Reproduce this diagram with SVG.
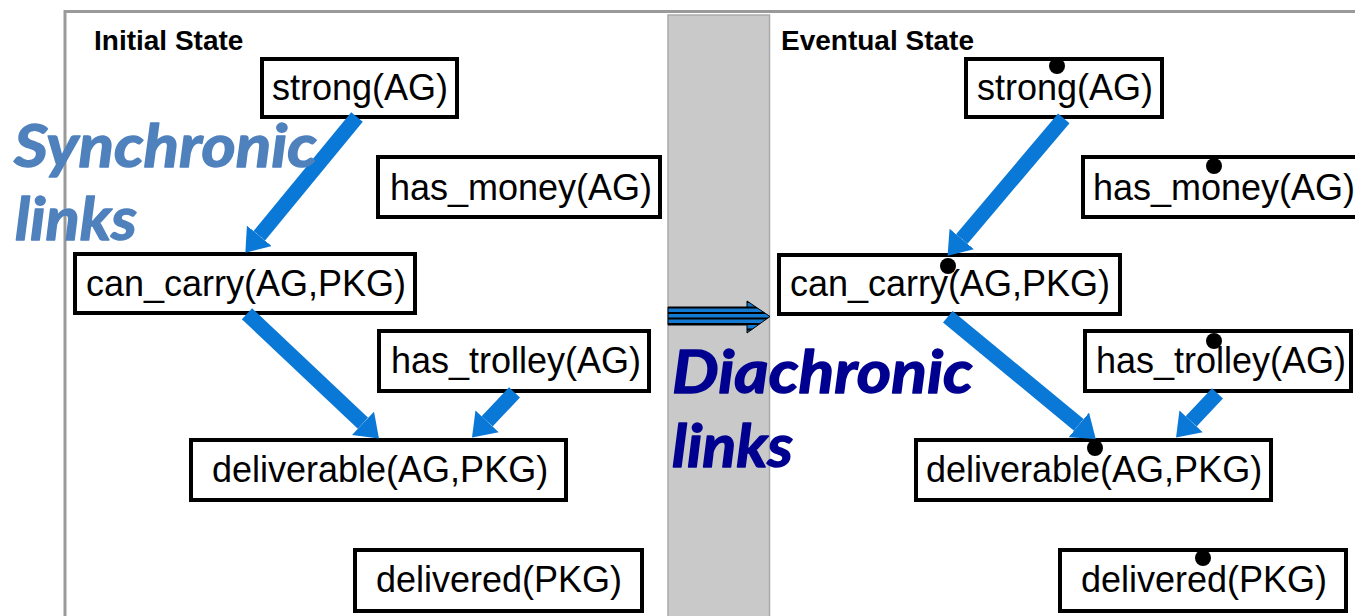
<svg xmlns="http://www.w3.org/2000/svg" width="1355" height="616" viewBox="0 0 1355 616">
  <style>
    .box { fill: #ffffff; stroke: #000000; stroke-width: 4; }
    .lbl { font-family: "Liberation Sans", Arial, sans-serif; font-size: 36px; fill: #000000; }
    .head { font-family: "Liberation Sans", Arial, sans-serif; font-size: 28px; font-weight: bold; fill: #000000; }
    .dot { fill: #000000; }
    .link { stroke: #0a78d6; stroke-width: 15; stroke-linecap: butt; fill: none; marker-end: url(#blueHead); }
    .big { font-family: Lato, "Open Sans", sans-serif; font-size: 60px; font-weight: bold; font-style: italic; stroke-width: 1.4; stroke-linejoin: round; }
    .sync { fill: #4f81bd; stroke: #4f81bd; }
    .dia { fill: #000090; stroke: #000090; }
  </style>
  <defs>
    <marker id="blueHead" markerUnits="userSpaceOnUse" viewBox="0 -16 22 32" refX="0" refY="0" markerWidth="22" markerHeight="32" orient="auto">
      <path d="M0,-16 L22,0 L0,16 Z" fill="#0a78d6"/>
    </marker>
    <clipPath id="diaClip">
      <polygon points="668,307 747,307 747,301 770,316.5 747,333 747,325 668,325"/>
    </clipPath>
  </defs>

  <!-- page background and frame -->
  <rect x="0" y="0" width="1355" height="616" fill="#ffffff"/>
  <path d="M65,616 L65,11.5 L1355,11.5" fill="none" stroke="#9a9a9a" stroke-width="3"/>

  <!-- separator band between the two states -->
  <rect x="668" y="15" width="101.5" height="610" fill="#c9c9c9" stroke="#aaaaaa" stroke-width="1.5"/>

  <!-- state headings -->
  <text class="head" x="94" y="50">Initial State</text>
  <text class="head" x="781" y="50">Eventual State</text>

  <!-- initial state nodes -->
  <g id="init-strong">
    <rect class="box" x="262" y="59" width="195" height="58"/>
    <text class="lbl" x="272" y="100">strong(AG)</text>
  </g>
  <g id="init-has-money">
    <rect class="box" x="378" y="157" width="282" height="60"/>
    <text class="lbl" x="390" y="200">has_money(AG)</text>
  </g>
  <g id="init-can-carry">
    <rect class="box" x="75" y="254" width="340" height="59"/>
    <text class="lbl" x="86" y="296">can_carry(AG,PKG)</text>
  </g>
  <g id="init-has-trolley">
    <rect class="box" x="379" y="331" width="270" height="60"/>
    <text class="lbl" x="391" y="373">has_trolley(AG)</text>
  </g>
  <g id="init-deliverable">
    <rect class="box" x="191" y="440" width="375" height="60"/>
    <text class="lbl" x="212" y="482">deliverable(AG,PKG)</text>
  </g>
  <g id="init-delivered">
    <rect class="box" x="355" y="550" width="287" height="61"/>
    <text class="lbl" x="376" y="592">delivered(PKG)</text>
  </g>

  <!-- eventual state nodes -->
  <g id="ev-strong">
    <rect class="box" x="966" y="59" width="196" height="58"/>
    <text class="lbl" x="977" y="100">strong(AG)</text>
    <circle class="dot" cx="1057" cy="66" r="8"/>
  </g>
  <g id="ev-has-money">
    <rect class="box" x="1083" y="157" width="290" height="60"/>
    <text class="lbl" x="1093" y="200">has_money(AG)</text>
    <circle class="dot" cx="1214" cy="166" r="8"/>
  </g>
  <g id="ev-can-carry">
    <rect class="box" x="779" y="255" width="341" height="59"/>
    <text class="lbl" x="790" y="296">can_carry(AG,PKG)</text>
    <circle class="dot" cx="948" cy="266" r="8"/>
  </g>
  <g id="ev-has-trolley">
    <rect class="box" x="1085" y="331" width="266" height="60"/>
    <text class="lbl" x="1096" y="373">has_trolley(AG)</text>
    <circle class="dot" cx="1214" cy="341" r="8"/>
  </g>
  <g id="ev-deliverable">
    <rect class="box" x="916" y="440" width="355" height="60"/>
    <text class="lbl" x="926" y="482">deliverable(AG,PKG)</text>
    <circle class="dot" cx="1095" cy="448" r="8"/>
  </g>
  <g id="ev-delivered">
    <rect class="box" x="1060" y="550" width="286" height="61"/>
    <text class="lbl" x="1081" y="592">delivered(PKG)</text>
    <circle class="dot" cx="1203" cy="558" r="8"/>
  </g>

  <!-- synchronic links within each state -->
  <g id="connectors">
    <line class="link" x1="357" y1="117" x2="259.3" y2="235.8"/>
    <line class="link" x1="247" y1="313.7" x2="363" y2="423.3"/>
    <line class="link" x1="514.5" y1="392.3" x2="487.1" y2="421.4"/>
    <line class="link" x1="1063.8" y1="118.3" x2="961.8" y2="239"/>
    <line class="link" x1="947.8" y1="316.7" x2="1078.8" y2="424.9"/>
    <line class="link" x1="1217.5" y1="393.3" x2="1191.1" y2="421.4"/>

    <!-- diachronic link across the band: striped block arrow -->
    <g id="diachronic-arrow">
      <polygon points="668,307 747,307 747,301 770,316.5 747,333 747,325 668,325" fill="#1479d0"/>
      <g clip-path="url(#diaClip)" stroke="#000000" stroke-width="1.8">
        <line x1="660" y1="302" x2="775" y2="302"/>
        <line x1="660" y1="307.5" x2="775" y2="307.5"/>
        <line x1="660" y1="313" x2="775" y2="313"/>
        <line x1="660" y1="318.5" x2="775" y2="318.5"/>
        <line x1="660" y1="324" x2="775" y2="324"/>
        <line x1="660" y1="329.5" x2="775" y2="329.5"/>
      </g>
      <polygon points="668,307 747,307 747,301 770,316.5 747,333 747,325 668,325" fill="none" stroke="#000000" stroke-width="1"/>
    </g>
  </g>

  <!-- captions -->
  <text class="big sync" x="14" y="167" textLength="303" lengthAdjust="spacingAndGlyphs">Synchronic</text>
  <text class="big sync" x="15" y="240" textLength="122" lengthAdjust="spacingAndGlyphs">links</text>
  <text class="big dia" x="672" y="393" textLength="301" lengthAdjust="spacingAndGlyphs">Diachronic</text>
  <text class="big dia" x="672" y="467" textLength="121" lengthAdjust="spacingAndGlyphs">links</text>
</svg>
